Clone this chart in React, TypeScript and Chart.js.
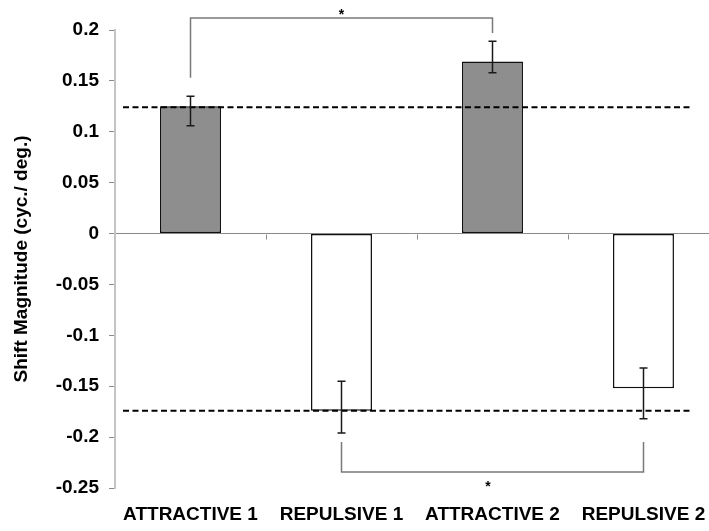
import React, { useEffect, useRef } from 'react';
import { Chart, registerables } from 'chart.js';

Chart.register(...registerables);

// ---- data ----
const categories = ['ATTRACTIVE 1', 'REPULSIVE 1', 'ATTRACTIVE 2', 'REPULSIVE 2'];
const shiftValues = [0.125, -0.174, 0.169, -0.152];
const errorHigh = [0.135, -0.145, 0.189, -0.132];
const errorLow = [0.106, -0.196, 0.158, -0.182];
const barColors = ['#8e8e8e', '#ffffff', '#8e8e8e', '#ffffff'];

const yTickValues = [0.2, 0.15, 0.1, 0.05, 0, -0.05, -0.1, -0.15, -0.2, -0.25];
const yTickLabels = ['0.2', '0.15', '0.1', '0.05', '0', '-0.05', '-0.1', '-0.15', '-0.2', '-0.25'];
const yMin = -0.25;
const yMax = 0.2;
const xMin = -0.5;
const xMax = 3.434;

// dashed reference levels
const referenceLevels = [0.124, -0.174];
const referenceStart = -0.447;
const referenceEnd = 3.328;

// category separators on the zero line
const separatorPositions = [0.5, 1.5, 2.5];

// significance brackets
const bracketFrom = [0, 1];
const bracketTo = [2, 3];
const bracketLevel = [0.2118, -0.2343];
const bracketFromEnd = [0.153, -0.2049];
const bracketToEnd = [0.197, -0.2049];
const starX = [1, 1.97];
const starY = [0.2176, -0.246];

const FONT = '"Liberation Sans", Arial, sans-serif';

const overlayPlugin = {
  id: 'overlay',
  beforeDatasetsDraw(chart: any) {
    const { ctx, scales } = chart;
    const x = scales.x;
    const y = scales.y;
    ctx.save();
    ctx.strokeStyle = '#8a8a8a';
    ctx.lineWidth = 1;
    const y0 = Math.round(y.getPixelForValue(0)) + 0.5;
    separatorPositions.forEach((p) => {
      const px = Math.round(x.getPixelForValue(p)) + 0.5;
      ctx.beginPath();
      ctx.moveTo(px, y0);
      ctx.lineTo(px, y0 + 5);
      ctx.stroke();
    });
    ctx.restore();
  },
  afterDatasetsDraw(chart: any) {
    const { ctx, scales } = chart;
    const x = scales.x;
    const y = scales.y;
    ctx.save();

    // dashed reference lines
    ctx.strokeStyle = '#000';
    ctx.lineWidth = 2;
    ctx.setLineDash([6, 3.5]);
    referenceLevels.forEach((lvl) => {
      const py = y.getPixelForValue(lvl);
      ctx.beginPath();
      ctx.moveTo(x.getPixelForValue(referenceStart), py);
      ctx.lineTo(x.getPixelForValue(referenceEnd), py);
      ctx.stroke();
    });
    ctx.setLineDash([]);

    // error bars
    ctx.strokeStyle = '#1a1a1a';
    ctx.lineWidth = 1.5;
    categories.forEach((_, i) => {
      const px = Math.round(x.getPixelForValue(i)) + 0.5;
      const top = y.getPixelForValue(errorHigh[i]);
      const bot = y.getPixelForValue(errorLow[i]);
      ctx.beginPath();
      ctx.moveTo(px, top);
      ctx.lineTo(px, bot);
      ctx.moveTo(px - 4, top);
      ctx.lineTo(px + 4, top);
      ctx.moveTo(px - 4, bot);
      ctx.lineTo(px + 4, bot);
      ctx.stroke();
    });

    // significance brackets
    ctx.strokeStyle = '#7a7a7a';
    ctx.lineWidth = 1.5;
    bracketFrom.forEach((from, k) => {
      const x1 = Math.round(x.getPixelForValue(from)) + 0.5;
      const x2 = Math.round(x.getPixelForValue(bracketTo[k])) + 0.5;
      const yl = y.getPixelForValue(bracketLevel[k]);
      ctx.beginPath();
      ctx.moveTo(x1, y.getPixelForValue(bracketFromEnd[k]));
      ctx.lineTo(x1, yl);
      ctx.lineTo(x2, yl);
      ctx.lineTo(x2, y.getPixelForValue(bracketToEnd[k]));
      ctx.stroke();
    });

    ctx.fillStyle = '#000';
    ctx.font = `bold 14px ${FONT}`;
    ctx.textAlign = 'center';
    ctx.textBaseline = 'middle';
    starX.forEach((sx, k) => {
      ctx.fillText('*', x.getPixelForValue(sx), y.getPixelForValue(starY[k]) + 3);
    });

    ctx.restore();
  },
};

export default function App() {
  const canvasRef = useRef<HTMLCanvasElement | null>(null);

  useEffect(() => {
    if (!canvasRef.current) return;
    const chart = new Chart(canvasRef.current, {
      type: 'bar',
      data: {
        datasets: [
          {
            data: shiftValues.map((v, i) => ({ x: i, y: v })),
            backgroundColor: barColors,
            borderColor: '#111111',
            borderWidth: 1.5,
            borderSkipped: false,
            barPercentage: 0.404,
            categoryPercentage: 1,
          } as any,
        ],
      },
      options: {
        animation: false,
        responsive: true,
        maintainAspectRatio: false,
        devicePixelRatio: 1,
        layout: { autoPadding: false, padding: { top: 30, right: 0, bottom: 0, left: 0 } },
        plugins: {
          legend: { display: false },
          tooltip: { enabled: false },
        },
        scales: {
          x: {
            type: 'linear',
            offset: false,
            min: xMin,
            max: xMax,
            grid: { display: false, drawTicks: false, offset: false },
            border: { display: false },
            afterBuildTicks: (scale: any) => {
              scale.ticks = categories.map((_, i) => ({ value: i }));
            },
            afterFit: (scale: any) => {
              scale.height = 43;
              scale.paddingLeft = 0;
              scale.paddingRight = 0;
            },
            ticks: {
              autoSkip: false,
              maxRotation: 0,
              minRotation: 0,
              padding: 15,
              color: '#000',
              font: { family: FONT, size: 19, weight: 'bold' },
              callback: (_v: any, i: number) => categories[i],
            },
          },
          y: {
            type: 'linear',
            min: yMin,
            max: yMax,
            afterBuildTicks: (scale: any) => {
              scale.ticks = yTickValues.map((v) => ({ value: v }));
            },
            afterFit: (scale: any) => {
              scale.width = 115;
              scale.paddingTop = 0;
              scale.paddingBottom = 0;
            },
            grid: {
              color: (c: any) => (c.tick && c.tick.value === 0 ? '#8a8a8a' : 'rgba(0,0,0,0)'),
              tickColor: '#8a8a8a',
              tickLength: 6,
              lineWidth: 1,
            },
            border: { color: '#c4c4c4', width: 2 },
            ticks: {
              padding: 10,
              color: '#000',
              font: { family: FONT, size: 19, weight: 'bold' },
              callback: (_v: any, i: number) => yTickLabels[i],
            },
            title: {
              display: true,
              text: 'Shift Magnitude (cyc./ deg.)',
              color: '#000',
              font: { family: FONT, size: 19, weight: 'bold' },
              padding: { top: 10, bottom: 0 },
            },
          },
        },
      } as any,
      plugins: [overlayPlugin],
    });
    return () => chart.destroy();
  }, []);

  return (
    <div style={{ position: 'fixed', left: 0, top: 0, width: 709, height: 531, background: '#fff' }}>
      <canvas ref={canvasRef} />
    </div>
  );
}
